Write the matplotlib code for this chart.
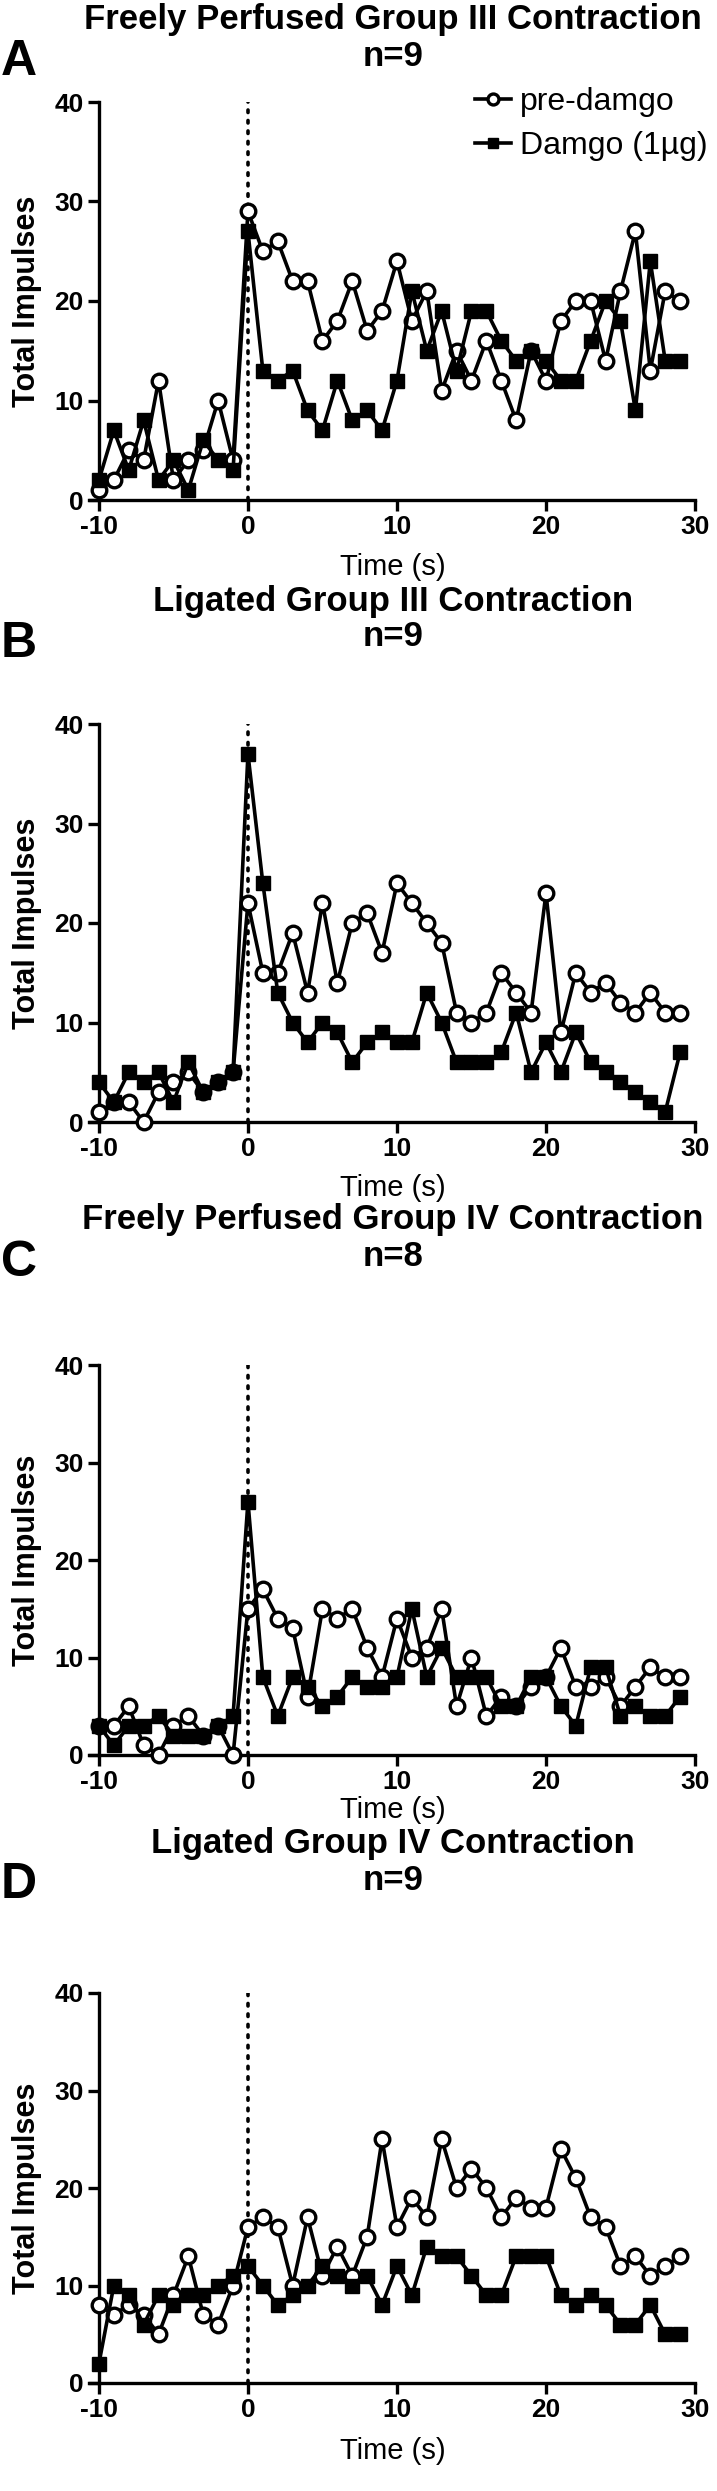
import matplotlib
matplotlib.use("Agg")
import matplotlib.pyplot as plt

plt.rcParams['font.family'] = ['Liberation Sans', 'DejaVu Sans']

# time bins (s)
time_s = list(range(-10, 30))

# A: freely perfused group III
pre_A = [1, 2, 5, 4, 12, 2, 4, 5, 10, 4,
         29, 25, 26, 22, 22, 16, 18, 22, 17, 19,
         24, 18, 21, 11, 15, 12, 16, 12, 8, 15,
         12, 18, 20, 20, 14, 21, 27, 13, 21, 20]
dam_A = [2, 7, 3, 8, 2, 4, 1, 6, 4, 3,
         27, 13, 12, 13, 9, 7, 12, 8, 9, 7,
         12, 21, 15, 19, 13, 19, 19, 16, 14, 15,
         14, 12, 12, 16, 20, 18, 9, 24, 14, 14]

# B: ligated group III
pre_B = [1, 2, 2, 0, 3, 4, 5, 3, 4, 5,
         22, 15, 15, 19, 13, 22, 14, 20, 21, 17,
         24, 22, 20, 18, 11, 10, 11, 15, 13, 11,
         23, 9, 15, 13, 14, 12, 11, 13, 11, 11]
dam_B = [4, 2, 5, 4, 5, 2, 6, 3, 4, 5,
         37, 24, 13, 10, 8, 10, 9, 6, 8, 9,
         8, 8, 13, 10, 6, 6, 6, 7, 11, 5,
         8, 5, 9, 6, 5, 4, 3, 2, 1, 7]

# C: freely perfused group IV
pre_C = [3, 3, 5, 1, 0, 3, 4, 2, 3, 0,
         15, 17, 14, 13, 6, 15, 14, 15, 11, 8,
         14, 10, 11, 15, 5, 10, 4, 6, 5, 7,
         8, 11, 7, 7, 8, 5, 7, 9, 8, 8]
dam_C = [3, 1, 3, 3, 4, 2, 2, 2, 3, 4,
         26, 8, 4, 8, 7, 5, 6, 8, 7, 7,
         8, 15, 8, 11, 8, 8, 8, 5, 5, 8,
         8, 5, 3, 9, 9, 4, 5, 4, 4, 6]

# D: ligated group IV
pre_D = [8, 7, 8, 7, 5, 9, 13, 7, 6, 10,
         16, 17, 16, 10, 17, 11, 14, 11, 15, 25,
         16, 19, 17, 25, 20, 22, 20, 17, 19, 18,
         18, 24, 21, 17, 16, 12, 13, 11, 12, 13]
dam_D = [2, 10, 9, 6, 9, 8, 9, 9, 10, 11,
         12, 10, 8, 9, 10, 12, 11, 10, 11, 8,
         12, 9, 14, 13, 13, 11, 9, 9, 13, 13,
         13, 9, 8, 9, 8, 6, 6, 8, 5, 5]

titles = ['Freely Perfused Group III Contraction', 'Ligated Group III Contraction',
          'Freely Perfused Group IV Contraction', 'Ligated Group IV Contraction']
n_labels = ['n=9', 'n=9', 'n=8', 'n=9']
letters = ['A', 'B', 'C', 'D']
pre_all = [pre_A, pre_B, pre_C, pre_D]
dam_all = [dam_A, dam_B, dam_C, dam_D]

x_ticks = [-10, 0, 10, 20, 30]
y_ticks = [0, 10, 20, 30, 40]

W, H = 717, 2491
fig = plt.figure(figsize=(W / 100, H / 100), dpi=100)

# layout in pixels
ax_left, ax_right = 88.5, 695
ax_tops = [102, 724, 1365, 1993]
ax_hs = [398, 398, 390, 390]
xlab_off = [67, 66, 55, 68]
title_y = [19, 601, 1220, 1843]
n_y = [56, 637, 1257, 1880]
letter_y = [62, 644, 1263, 1885]
lw = 2.6

for i in range(4):
    top, ah = ax_tops[i], ax_hs[i]
    ax = fig.add_axes([ax_left / W, 1 - (top + ah) / H,
                       (ax_right - ax_left) / W, ah / H])
    ax.axvline(0, color='black', lw=2.6, ls=(0, (0.7, 2.2)),
               dash_capstyle='round', zorder=1)
    ax.plot(time_s, pre_all[i], '-o', color='black', mfc='white', mec='black',
            ms=10.5, mew=2.4, lw=lw, clip_on=False, zorder=3, label='pre-damgo')
    ax.plot(time_s, dam_all[i], '-s', color='black', ms=10, lw=lw,
            clip_on=False, zorder=4, label='Damgo (1µg)')

    ax.set_xlim(-10.7, 30)
    ax.set_ylim(0, 40)
    for s in ['top', 'right']:
        ax.spines[s].set_visible(False)
    ax.spines['left'].set_position(('data', -10))
    ax.spines['left'].set_linewidth(2.4)
    ax.spines['bottom'].set_linewidth(2.4)
    ax.set_xticks(x_ticks)
    ax.set_xticklabels([str(v) for v in x_ticks], fontweight='bold')
    ax.set_yticks(y_ticks)
    ax.set_yticklabels([str(v) for v in y_ticks], fontweight='bold')
    ax.tick_params(direction='out', length=8, width=2.4, labelsize=19, pad=3)

    fig.text(393 / W, 1 - title_y[i] / H, titles[i], ha='center', va='center',
             fontsize=25, fontweight='bold')
    fig.text(393 / W, 1 - n_y[i] / H, n_labels[i], ha='center', va='center',
             fontsize=25, fontweight='bold')
    fig.text(19 / W, 1 - letter_y[i] / H, letters[i], ha='center', va='center',
             fontsize=36, fontweight='bold')
    fig.text(27 / W, 1 - (top + ah / 2) / H, 'Total Impulses', rotation=90,
             ha='center', va='center', fontsize=22, fontweight='bold')
    fig.text(393 / W, 1 - (top + ah + xlab_off[i]) / H, 'Time (s)', ha='center',
             va='center', fontsize=21)

    if i == 0:
        # legend block centred between the two rows (~122 px from the top)
        ax.legend(loc='center left', bbox_to_anchor=(0.638, 1 - 22 / ah),
                  frameon=False, fontsize=23,
                  handlelength=1.1, handletextpad=0.3, labelspacing=0.45,
                  markerscale=0.75, borderpad=0, borderaxespad=0)

fig.savefig('out.png', dpi=100, facecolor='white')
